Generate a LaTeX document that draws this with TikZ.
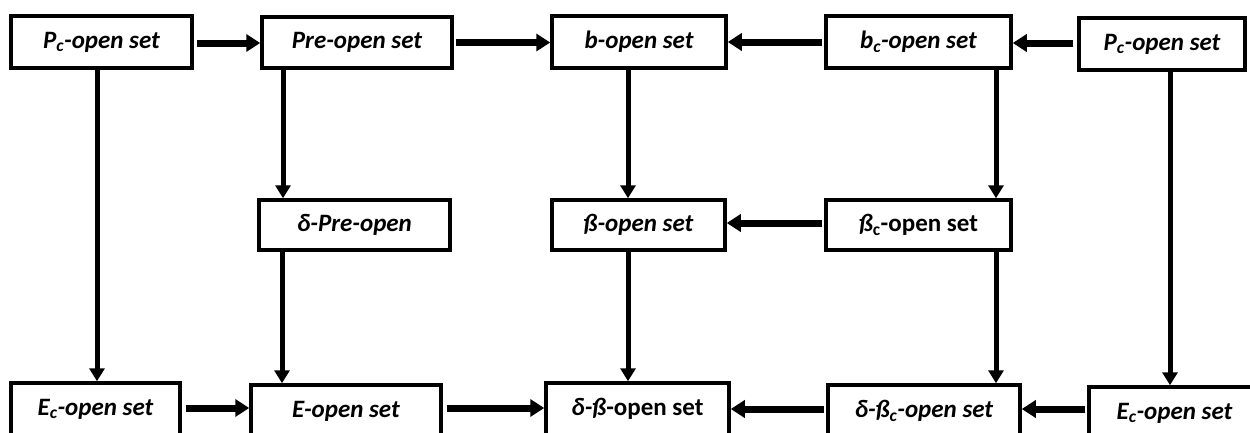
\documentclass[tikz,border=0pt]{standalone}
\usepackage{fontspec}
\setmainfont{Carlito}
\usetikzlibrary{arrows.meta}
\begin{document}
\begin{tikzpicture}[x=1pt,y=-1pt,
  box/.style={draw=black,line width=3.5pt,rectangle,inner sep=0pt,
    font=\fontsize{25}{30}\selectfont\bfseries\itshape},
  harr/.style={line width=7pt,-{Triangle[length=14pt,width=17pt]}},
  varr/.style={line width=5pt,-{Triangle[length=13pt,width=15pt]}}]
\useasboundingbox (0,0) rectangle (1250,432);
% row 1
\node[box,minimum width=181pt,minimum height=52pt] (pc1) at (101.5,42) {P\textsubscript{c}-open set};
\node[box,minimum width=190pt,minimum height=51pt] (pre) at (357,42.5) {Pre-open set};
\node[box,minimum width=174pt,minimum height=52pt] (b) at (639,42) {b-open set};
\node[box,minimum width=185pt,minimum height=52pt] (bc) at (918.5,42) {b\textsubscript{c}-open set};
\node[box,minimum width=166pt,minimum height=52pt] (pc2) at (1162,44) {P\textsubscript{c}-open set};
% row 2
\node[box,minimum width=191pt,minimum height=50pt] (dpre) at (354.5,225) {δ-Pre-open};
\node[box,minimum width=173pt,minimum height=50pt] (beta) at (638.5,225) {ß-open set};
\node[box,minimum width=185pt,minimum height=50pt] (betac) at (918.5,225) {ß\textsubscript{\upshape c}\upshape-open set};
% row 3
\node[box,minimum width=169pt,minimum height=52pt] (ec1) at (95.5,409) {E\textsubscript{c}-open set};
\node[box,minimum width=190pt,minimum height=52pt] (e) at (346,411) {E-open set};
\node[box,minimum width=183pt,minimum height=52pt] (db) at (637.5,409) {δ-ß\upshape-open set};
\node[box,minimum width=192pt,minimum height=52pt] (dbc) at (924,411) {δ-ß\textsubscript{c}-open set};
\node[box,minimum width=171pt,minimum height=52pt] (ec2) at (1174.5,413) {E\textsubscript{c}-open set};
% horizontal arrows row 1
\draw[harr] ([xshift=3pt,yshift=-1pt]pc1.east) -- ([yshift=-1pt]pc1.east -| pre.west);
\draw[harr] ([xshift=2pt]pre.east) -- (pre.east -| b.west);
\draw[harr] ([xshift=-2pt]bc.west) -- (bc.west -| b.east);
\draw[harr] ([xshift=-4pt,yshift=1pt]pc2.west) -- ([yshift=1pt]pc2.west -| bc.east);
% row 2
\draw[harr] ([xshift=-2pt,yshift=2pt]betac.west) -- ([yshift=2pt]betac.west -| beta.east);
% row 3
\draw[harr] ([xshift=4pt,yshift=1pt]ec1.east) -- ([yshift=1pt]ec1.east -| e.west);
\draw[harr] ([xshift=4pt,yshift=3pt]e.east) -- ([yshift=3pt]e.east -| db.west);
\draw[harr] ([xshift=-2pt,yshift=2pt]dbc.west) -- ([yshift=2pt]dbc.west -| db.east);
\draw[harr] ([xshift=-2pt,yshift=4pt]ec2.west) -- ([yshift=4pt]ec2.west -| dbc.east);
% vertical arrows
\draw[varr] ([xshift=-4.5pt]pc1.south) -- ([xshift=-4.5pt]pc1.south |- ec1.north);
\draw[varr] ([xshift=-74pt]pre.south) -- ([xshift=-74pt]pre.south |- dpre.north);
\draw[varr] ([xshift=-11pt]b.south) -- ([xshift=-11pt]b.south |- beta.north);
\draw[varr] ([xshift=77.5pt]bc.south) -- ([xshift=77.5pt]bc.south |- betac.north);
\draw[varr] ([xshift=8pt]pc2.south) -- ([xshift=8pt]pc2.south |- ec2.north);
\draw[varr] ([xshift=-72.5pt]dpre.south) -- ([xshift=-72.5pt]dpre.south |- e.north);
\draw[varr] ([xshift=-10.5pt]beta.south) -- ([xshift=-10.5pt]beta.south |- db.north);
\draw[varr] ([xshift=77.5pt]betac.south) -- ([xshift=77.5pt]betac.south |- dbc.north);
\end{tikzpicture}
\end{document}
